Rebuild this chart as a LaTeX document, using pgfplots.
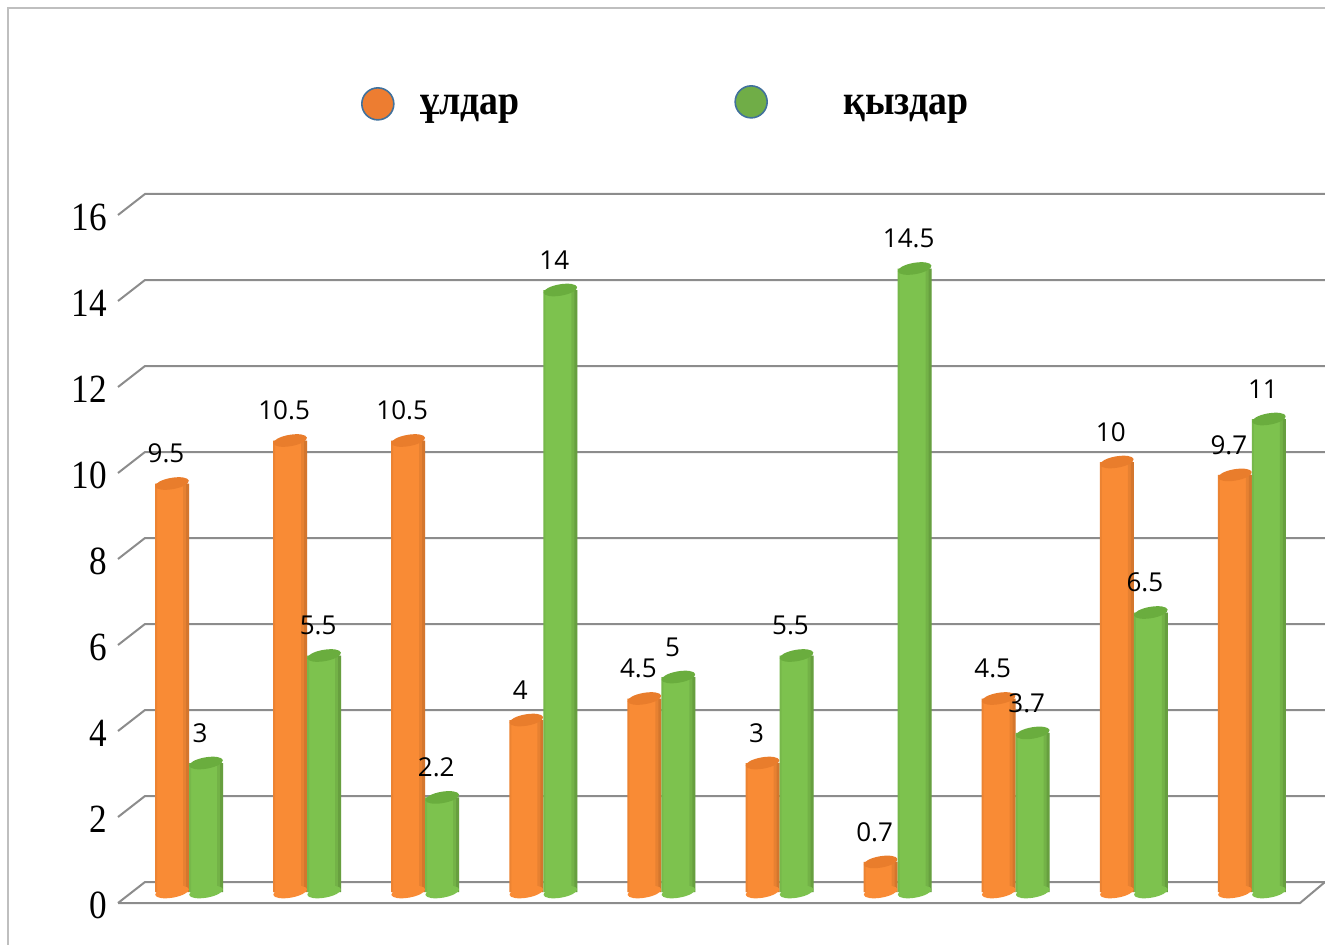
\documentclass[border=0pt]{standalone}
\usepackage{pgfplots}
\pgfplotsset{compat=1.18}
\usepackage{pgfplotstable}
\usepackage{fontspec}
\setmainfont{Liberation Serif}
\newfontfamily\labfont{Open Sans}

\definecolor{gridgray}{HTML}{8C8C8C}
\definecolor{bordergray}{HTML}{BFBFBF}
\definecolor{oM}{HTML}{F98B35}
\definecolor{oT}{HTML}{E97D2C}
\definecolor{gM}{HTML}{7DC24E}
\definecolor{gT}{HTML}{6AAD3E}
\definecolor{legO}{HTML}{ED7D31}
\definecolor{legG}{HTML}{70AD47}
\definecolor{legEdge}{HTML}{41719C}

\pgfdeclareplotmark{cyl}{%
  \pgfpathellipse{\pgfpointorigin}{\pgfpoint{8.4pt}{1.45pt}}{\pgfpoint{-0.5pt}{2.8pt}}%
  \pgfusepathqfill}

\pgfplotstableread{
k ul kyz
1 9.5 3
2 10.5 5.5
3 10.5 2.2
4 4 14
5 4.5 5
6 3 5.5
7 0.7 14.5
8 4.5 3.7
9 10 6.5
10 9.7 11
}\data

\begin{document}
\begin{tikzpicture}[x=0.5pt,y=0.5pt]
\useasboundingbox (0,0) rectangle (1325,944);
\clip (0,0) rectangle (1325,944);
\draw[bordergray, line width=1pt] (8,-5) -- (8,936) -- (1340,936);
\foreach \v in {0,2,...,16} {
  \draw[gridgray, line width=1pt] (118,{41+43*\v}) -- (145,{62+43*\v}) -- (1340,{62+43*\v});
}
\draw[gridgray, line width=1pt] (118,41) -- (1300,41) -- (1325,62);

\begin{axis}[
  at={(65.75pt,26pt)}, anchor=south west,
  scale only axis, width=590.5pt, height=344pt,
  xmin=-0.487, xmax=9.513, ymin=0, ymax=16,
  clip=false,
  axis line style={draw=none},
  xtick=\empty,
  ytick={0,2,...,16},
  major tick length=0pt,
  tick style={draw=none},
  /pgf/number format/assume math mode=true,
  yticklabel style={font=\fontsize{20}{24}\selectfont, anchor=east, inner sep=0pt, xshift=-12pt, yshift=-6.5pt, xscale=0.88},
  legend style={at={(0.194,1.147)}, anchor=west, draw=none, fill=none, inner sep=0pt,
    font=\fontsize{21}{25}\selectfont\bfseries, legend columns=2,
    /tikz/every even column/.append style={column sep=105.5pt}},
  legend cell align=left,
]
\addlegendimage{legend image code/.code={\draw[fill=legO, draw=legEdge, line width=0.8pt] (8pt,0pt) circle (8pt); \path (27pt,0pt);}}
\addlegendentry{\raisebox{-2.5pt}{\scalebox{0.9}[1]{ұлдар}}}
\addlegendimage{legend image code/.code={\draw[fill=legG, draw=legEdge, line width=0.8pt] (8pt,1pt) circle (8pt); \path (27pt,0pt);}}
\addlegendentry{\hspace*{25pt}\raisebox{-2.5pt}{\scalebox{0.9}[1]{қыздар}}}

% orange cylinders
\addplot[forget plot, only marks, mark=cyl, mark options={fill=oM, draw=none}] table[x expr=\coordindex-0.144, y expr=0] \data;
\addplot[forget plot, ybar, bar shift=0pt, bar width=0.288, draw=none, fill=oM] table[x expr=\coordindex-0.144, y=ul] \data;
\addplot[forget plot, ybar, bar shift=0pt, bar width=0.0508, draw=none, fill=black, fill opacity=0.07] table[x expr=\coordindex-0.0254, y=ul] \data;
\addplot[forget plot, ybar, bar shift=0pt, bar width=0.0254, draw=none, fill=black, fill opacity=0.08] table[x expr=\coordindex-0.0127, y=ul] \data;
\addplot[forget plot, ybar, bar shift=0pt, bar width=0.017, draw=none, fill=black, fill opacity=0.05] table[x expr=\coordindex-0.2795, y=ul] \data;
\addplot[forget plot, only marks, mark=cyl, mark options={fill=oT, draw=none}] table[x expr=\coordindex-0.144, y=ul] \data;
% green cylinders
\addplot[forget plot, only marks, mark=cyl, mark options={fill=gM, draw=none}] table[x expr=\coordindex+0.144, y expr=0] \data;
\addplot[forget plot, ybar, bar shift=0pt, bar width=0.288, draw=none, fill=gM] table[x expr=\coordindex+0.144, y=kyz] \data;
\addplot[forget plot, ybar, bar shift=0pt, bar width=0.0508, draw=none, fill=black, fill opacity=0.08] table[x expr=\coordindex+0.2626, y=kyz] \data;
\addplot[forget plot, ybar, bar shift=0pt, bar width=0.0254, draw=none, fill=black, fill opacity=0.1] table[x expr=\coordindex+0.2753, y=kyz] \data;
\addplot[forget plot, ybar, bar shift=0pt, bar width=0.017, draw=none, fill=black, fill opacity=0.05] table[x expr=\coordindex+0.0085, y=kyz] \data;
\addplot[forget plot, only marks, mark=cyl, mark options={fill=gT, draw=none}] table[x expr=\coordindex+0.144, y=kyz] \data;
% data labels
\addplot[forget plot, draw=none, mark=none, nodes near coords,
  nodes near coords style={font=\labfont\fontsize{13}{15}\selectfont, anchor=center, yshift=15pt, xshift=-3pt, text=black}]
  table[x expr=\coordindex-0.144, y=ul] \data;
\addplot[forget plot, draw=none, mark=none, nodes near coords,
  nodes near coords style={font=\labfont\fontsize{13}{15}\selectfont, anchor=center, yshift=15pt, xshift=-3pt, text=black}]
  table[x expr=\coordindex+0.144, y=kyz] \data;
\end{axis}
\end{tikzpicture}
\end{document}
